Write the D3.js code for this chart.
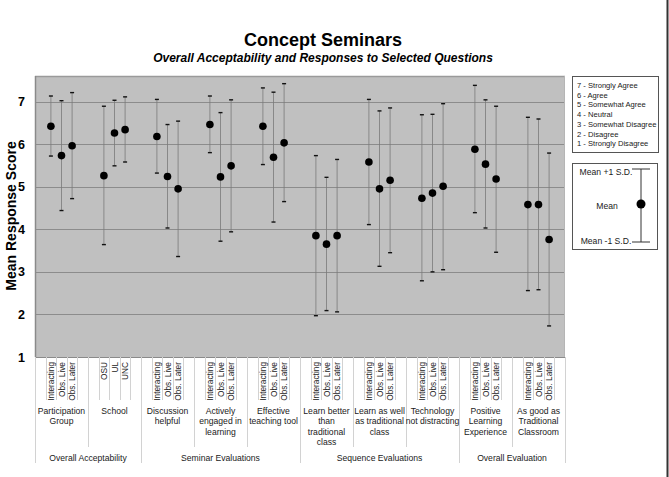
<!DOCTYPE html>
<html>
<head>
<meta charset="utf-8">
<script src="https://cdn.jsdelivr.net/npm/d3@7/dist/d3.min.js"></script>
<style>
  html, body { margin: 0; padding: 0; background: #fff; }
  svg { display: block; font-family: "Liberation Sans", Arial, sans-serif; }
</style>
</head>
<body>
<svg id="chart" width="669" height="477"></svg>
<script>
// ---------------- DATA ----------------
const title = "Concept Seminars";
const subtitle = "Overall Acceptability and Responses to Selected Questions";
const yAxisTitle = "Mean Response Score";

const questionLabels = [
  ["Participation", "Group"],
  ["School"],
  ["Discussion", "helpful"],
  ["Actively", "engaged in", "learning"],
  ["Effective", "teaching tool"],
  ["Learn better", "than", "traditional", "class"],
  ["Learn as well", "as traditional", "class"],
  ["Technology", "not distracting"],
  ["Positive", "Learning", "Experience"],
  ["As good as", "Traditional", "Classroom"]
];
const groupItemLabels = [
  ["Interacting", "Obs. Live", "Obs. Later"],
  ["OSU", "UL", "UNC"],
  ["Interacting", "Obs. Live", "Obs. Later"],
  ["Interacting", "Obs. Live", "Obs. Later"],
  ["Interacting", "Obs. Live", "Obs. Later"],
  ["Interacting", "Obs. Live", "Obs. Later"],
  ["Interacting", "Obs. Live", "Obs. Later"],
  ["Interacting", "Obs. Live", "Obs. Later"],
  ["Interacting", "Obs. Live", "Obs. Later"],
  ["Interacting", "Obs. Live", "Obs. Later"]
];
const sectionNames = ["Overall Acceptability", "Seminar Evaluations", "Sequence Evaluations", "Overall Evaluation"];
const sectionGroupCounts = [2, 3, 3, 2];

// mean, mean+1SD, mean-1SD per item (10 groups x 3 items)
const means = [
  6.42, 5.73, 5.96,
  5.26, 6.26, 6.34,
  6.18, 5.24, 4.95,
  6.46, 5.23, 5.49,
  6.42, 5.69, 6.03,
  3.85, 3.65, 3.85,
  5.58, 4.95, 5.15,
  4.73, 4.85, 5.01,
  5.88, 5.53, 5.18,
  4.58, 4.58, 3.76
];
const upperSD = [
  7.13, 7.02, 7.21,
  6.89, 7.03, 7.11,
  7.05, 6.46, 6.54,
  7.13, 6.74, 7.04,
  7.32, 7.22, 7.42,
  5.73, 5.22, 5.64,
  7.05, 6.78, 6.85,
  6.69, 6.70, 6.95,
  7.38, 7.04, 6.89,
  6.63, 6.59, 5.79
];
const lowerSD = [
  5.72, 4.44, 4.72,
  3.64, 5.49, 5.58,
  5.32, 4.03, 3.36,
  5.80, 3.72, 3.94,
  5.52, 4.17, 4.65,
  1.97, 2.09, 2.06,
  4.11, 3.13, 3.45,
  2.79, 3.00, 3.05,
  4.39, 4.03, 3.46,
  2.56, 2.58, 1.73
];
const yTicks = [1, 2, 3, 4, 5, 6, 7];
const scaleLegend = ["7 - Strongly Agree", "6 - Agree", "5 - Somewhat Agree", "4 - Neutral",
                     "3 - Somewhat Disagree", "2 - Disagree", "1 - Strongly Disagree"];

// ---------------- LAYOUT ----------------
const svg = d3.select("#chart");
const plot = { left: 35, right: 565, top: 76, bottom: 357 };

// slots: each group = pad, 3 items, pad
const slots = [];
groupItemLabels.forEach((items, g) => {
  slots.push(`g${g}-a`);
  items.forEach((_, i) => slots.push(`g${g}-i${i}`));
  slots.push(`g${g}-b`);
});
const x = d3.scaleBand().domain(slots).range([plot.left, plot.right]).padding(0);
const bw = x.bandwidth();
const y = d3.scaleLinear().domain([1, 7.6]).range([plot.bottom, plot.top]);

const points = [];
groupItemLabels.forEach((items, g) => items.forEach((lab, i) => {
  const k = g * 3 + i;
  points.push({ key: `g${g}-i${i}`, label: lab, mean: means[k], hi: upperSD[k], lo: lowerSD[k] });
}));

// ---------------- TITLES ----------------
svg.append("text").attr("x", 323).attr("y", 46).attr("text-anchor", "middle")
  .attr("font-size", 18).attr("font-weight", "bold").attr("fill", "#000").text(title);
svg.append("text").attr("x", 323).attr("y", 62).attr("text-anchor", "middle")
  .attr("font-size", 12).attr("font-weight", "bold").attr("font-style", "italic").attr("fill", "#000").text(subtitle);

// ---------------- PLOT AREA ----------------
svg.append("rect").attr("x", plot.left).attr("y", plot.top)
  .attr("width", plot.right - plot.left).attr("height", plot.bottom - plot.top)
  .attr("fill", "#c0c0c0").attr("stroke", "none");

// gridlines
svg.append("g").selectAll("line").data(yTicks.filter(d => d > 1)).join("line")
  .attr("x1", plot.left).attr("x2", plot.right)
  .attr("y1", d => Math.round(y(d)) + 0.5).attr("y2", d => Math.round(y(d)) + 0.5)
  .attr("stroke", "#8c8c8c").attr("stroke-width", 1);

// frame edges
svg.append("line").attr("x1", plot.left).attr("x2", plot.right).attr("y1", plot.top + 0.5).attr("y2", plot.top + 0.5)
  .attr("stroke", "#9a9a9a").attr("stroke-width", 1.5);
svg.append("line").attr("x1", plot.right - 0.5).attr("x2", plot.right - 0.5).attr("y1", plot.top).attr("y2", plot.bottom)
  .attr("stroke", "#b5b5b5").attr("stroke-width", 1);
svg.append("line").attr("x1", plot.left + 0.5).attr("x2", plot.left + 0.5).attr("y1", plot.top).attr("y2", plot.bottom)
  .attr("stroke", "#8a8a8a").attr("stroke-width", 1.5);
svg.append("line").attr("x1", plot.left).attr("x2", plot.right).attr("y1", plot.bottom + 0.5).attr("y2", plot.bottom + 0.5)
  .attr("stroke", "#8a8a8a").attr("stroke-width", 1);

// y axis tick labels
const yAxis = d3.axisLeft(y).tickValues(yTicks).tickSize(0).tickPadding(10).tickFormat(d3.format("d"));
const yg = svg.append("g").attr("transform", `translate(${plot.left},0)`).call(yAxis);
yg.select(".domain").remove();
yg.selectAll("text").attr("font-size", 12.5).attr("font-weight", "bold")
  .attr("font-family", "Liberation Sans, Arial, sans-serif").attr("fill", "#000");

svg.append("text").attr("transform", `translate(15.5,216) rotate(-90)`).attr("text-anchor", "middle")
  .attr("font-size", 14).attr("font-weight", "bold").attr("fill", "#000").text(yAxisTitle);

// ---------------- ERROR BARS + POINTS ----------------
const marks = svg.append("g");
const cx = d => x(d.key) + bw / 2;
marks.selectAll("line.err").data(points).join("line").attr("class", "err")
  .attr("x1", cx).attr("x2", cx).attr("y1", d => y(d.hi)).attr("y2", d => y(d.lo))
  .attr("stroke", "#7a7a7a").attr("stroke-width", 0.8);
marks.selectAll("line.capHi").data(points).join("line").attr("class", "capHi")
  .attr("x1", d => cx(d) - 2).attr("x2", d => cx(d) + 2).attr("y1", d => y(d.hi)).attr("y2", d => y(d.hi))
  .attr("stroke", "#111").attr("stroke-width", 1.4);
marks.selectAll("line.capLo").data(points).join("line").attr("class", "capLo")
  .attr("x1", d => cx(d) - 2).attr("x2", d => cx(d) + 2).attr("y1", d => y(d.lo)).attr("y2", d => y(d.lo))
  .attr("stroke", "#111").attr("stroke-width", 1.4);
marks.selectAll("circle").data(points).join("circle")
  .attr("cx", cx).attr("cy", d => y(d.mean)).attr("r", 3.8).attr("fill", "#000");

// ---------------- MULTI-LEVEL X AXIS ----------------
const xa = svg.append("g");
const sepColor = "#d2d2d2";
const lvl1Bottom = 400, lvl2Bottom = 447, lvl3Bottom = 463;

// level-1 separators at every slot boundary
const boundaries = slots.map(s => x(s)).concat([plot.right]);
xa.selectAll("line.l1").data(boundaries).join("line").attr("class", "l1")
  .attr("x1", d => Math.round(d) + 0.5).attr("x2", d => Math.round(d) + 0.5)
  .attr("y1", plot.bottom).attr("y2", lvl1Bottom).attr("stroke", sepColor).attr("stroke-width", 1);

// group boundaries
const groupStarts = groupItemLabels.map((_, g) => x(`g${g}-a`));
const groupEnds = groupItemLabels.map((_, g) => x(`g${g}-b`) + bw);
const sectionBoundaryIdx = [];
{ let acc = 0; sectionGroupCounts.forEach(c => { sectionBoundaryIdx.push(acc); acc += c; }); sectionBoundaryIdx.push(acc); }
const groupBounds = groupStarts.concat([plot.right]);
xa.selectAll("line.l2").data(groupBounds).join("line").attr("class", "l2")
  .attr("x1", d => Math.round(d) + 0.5).attr("x2", d => Math.round(d) + 0.5)
  .attr("y1", plot.bottom).attr("y2", (d, i) => sectionBoundaryIdx.includes(i) ? lvl3Bottom : lvl2Bottom)
  .attr("stroke", sepColor).attr("stroke-width", 1);

// level-1 rotated labels
xa.selectAll("text.l1").data(points).join("text").attr("class", "l1")
  .attr("transform", d => `translate(${cx(d) + 3.2},${plot.bottom + 5}) rotate(-90)`)
  .attr("text-anchor", "end").attr("font-size", 8.3).attr("fill", "#1a1a1a").text(d => d.label);

// level-2 question labels
questionLabels.forEach((lines, g) => {
  const mx = (groupStarts[g] + groupEnds[g]) / 2;
  const t = xa.append("text").attr("x", mx).attr("y", 414).attr("text-anchor", "middle")
    .attr("font-size", 8.6).attr("fill", "#1a1a1a");
  lines.forEach((ln, j) => t.append("tspan").attr("x", mx).attr("dy", j === 0 ? 0 : 10.3).text(ln));
});

// level-3 section labels
sectionNames.forEach((name, s) => {
  const a = groupStarts[sectionBoundaryIdx[s]];
  const b = groupEnds[sectionBoundaryIdx[s + 1] - 1];
  xa.append("text").attr("x", (a + b) / 2).attr("y", 461).attr("text-anchor", "middle")
    .attr("font-size", 8.6).attr("fill", "#1a1a1a").text(name);
});

// ---------------- LEGENDS ----------------
const leg1 = svg.append("g");
leg1.append("rect").attr("x", 572.5).attr("y", 76.5).attr("width", 86).attr("height", 76)
  .attr("fill", "#fff").attr("stroke", "#555").attr("stroke-width", 1);
leg1.selectAll("text").data(scaleLegend).join("text")
  .attr("x", 577).attr("y", (d, i) => 88 + i * 9.7).attr("font-size", 7.6).attr("fill", "#1a1a1a").text(d => d);

const leg2 = svg.append("g");
leg2.append("rect").attr("x", 572.5).attr("y", 163.5).attr("width", 85).attr("height", 86)
  .attr("fill", "#fff").attr("stroke", "#555").attr("stroke-width", 1);
leg2.append("text").attr("x", 606).attr("y", 175).attr("text-anchor", "middle").attr("font-size", 8.6).attr("fill", "#1a1a1a").text("Mean +1 S.D.");
leg2.append("text").attr("x", 607).attr("y", 209).attr("text-anchor", "middle").attr("font-size", 8.6).attr("fill", "#1a1a1a").text("Mean");
leg2.append("text").attr("x", 606).attr("y", 244).attr("text-anchor", "middle").attr("font-size", 8.6).attr("fill", "#1a1a1a").text("Mean -1 S.D.");
leg2.append("line").attr("x1", 641).attr("x2", 641).attr("y1", 169).attr("y2", 242).attr("stroke", "#333").attr("stroke-width", 1);
leg2.append("line").attr("x1", 632).attr("x2", 650).attr("y1", 169).attr("y2", 169).attr("stroke", "#333").attr("stroke-width", 1);
leg2.append("line").attr("x1", 632).attr("x2", 650).attr("y1", 242).attr("y2", 242).attr("stroke", "#333").attr("stroke-width", 1);
leg2.append("circle").attr("cx", 641).attr("cy", 204).attr("r", 4.5).attr("fill", "#000");

// outer right border
svg.append("line").attr("x1", 667.5).attr("x2", 667.5).attr("y1", 0).attr("y2", 477)
  .attr("stroke", "#333").attr("stroke-width", 2);
</script>
</body>
</html>
